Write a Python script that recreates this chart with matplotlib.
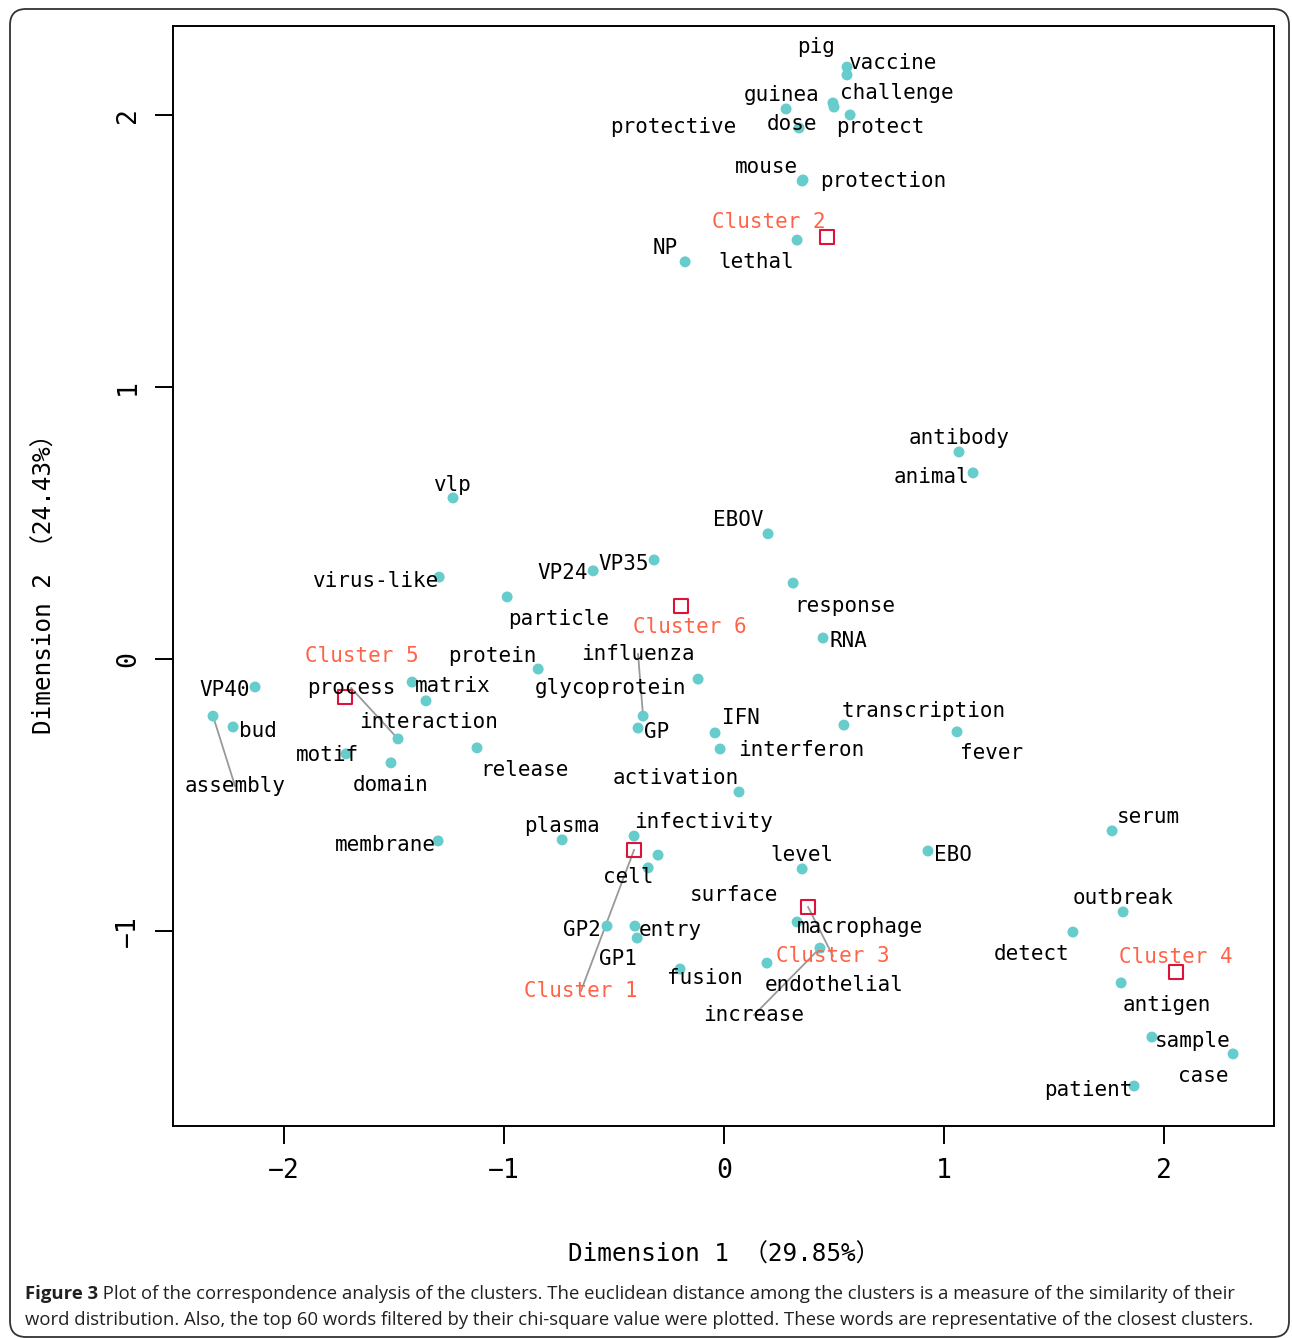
import matplotlib
matplotlib.use("Agg")
import matplotlib.pyplot as plt
from matplotlib.patches import FancyBboxPatch
from matplotlib.transforms import IdentityTransform

# ---------------- data ----------------
words = ["pig", "vaccine", "guinea", "challenge", "protective", "dose", "protect",
         "mouse", "protection", "NP", "lethal", "antibody", "animal", "vlp", "EBOV",
         "VP24", "VP35", "virus-like", "particle", "response", "RNA", "protein",
         "influenza", "VP40", "process", "matrix", "glycoprotein", "bud", "interaction",
         "IFN", "transcription", "GP", "motif", "interferon", "fever", "assembly",
         "domain", "release", "activation", "membrane", "plasma", "infectivity",
         "serum", "level", "EBO", "cell", "surface", "outbreak", "GP2", "entry",
         "macrophage", "detect", "GP1", "fusion", "endothelial", "antigen",
         "increase", "sample", "case", "patient"]
dim1 = [0.559, 0.559, 0.282, 0.500, 0.495, 0.341, 0.573,
        0.355, 0.359, -0.177, 0.332, 1.068, 1.132, -1.232, 0.200,
        -0.595, -0.318, -1.295, -0.986, 0.314, 0.450, -0.845,
        -0.368, -2.132, -1.482, -1.418, -0.118, -2.232, -1.355,
        -0.041, 0.545, -0.391, -1.718, -0.018, 1.059, -2.323,
        -1.514, -1.123, 0.068, -1.300, -0.736, -0.409,
        1.764, 0.355, 0.927, -0.345, -0.300, 1.814, -0.532, -0.405,
        0.332, 1.586, -0.395, -0.200, 0.195, 1.805,
        0.436, 1.945, 2.314, 1.864]
dim2 = [2.176, 2.147, 2.022, 2.029, 2.044, 1.952, 2.000,
        1.757, 1.761, 1.460, 1.540, 0.761, 0.684, 0.592, 0.460,
        0.324, 0.364, 0.301, 0.228, 0.279, 0.077, -0.037,
        -0.210, -0.103, -0.294, -0.085, -0.074, -0.250, -0.154,
        -0.272, -0.243, -0.254, -0.349, -0.331, -0.268, -0.210,
        -0.382, -0.327, -0.489, -0.669, -0.665, -0.651,
        -0.632, -0.772, -0.706, -0.768, -0.721, -0.930, -0.982, -0.982,
        -0.967, -1.004, -1.026, -1.140, -1.118, -1.191,
        -1.063, -1.390, -1.452, -1.570]
label_x = [0.418, 0.768, 0.264, 0.786, -0.232, 0.309, 0.709,
           0.191, 0.723, -0.268, 0.145, 1.068, 0.945, -1.232, 0.064,
           -0.732, -0.455, -1.582, -0.750, 0.550, 0.564, -1.055,
           -0.391, -2.268, -1.695, -1.232, -0.518, -2.118, -1.345,
           0.077, 0.909, -0.305, -1.805, 0.350, 1.218, -2.223,
           -1.514, -0.909, -0.218, -1.541, -0.736, -0.091,
           1.927, 0.355, 1.041, -0.436, 0.045, 1.814, -0.645, -0.245,
           0.618, 1.400, -0.482, -0.086, 0.500, 2.014,
           0.136, 2.132, 2.177, 1.655]
label_y = [2.250, 2.191, 2.074, 2.081, 1.956, 1.967, 1.956,
           1.809, 1.757, 1.511, 1.460, 0.812, 0.669, 0.640, 0.511,
           0.316, 0.349, 0.287, 0.147, 0.195, 0.066, 0.011,
           0.018, -0.114, -0.107, -0.099, -0.107, -0.265, -0.232,
           -0.217, -0.191, -0.268, -0.353, -0.335, -0.346, -0.467,
           -0.463, -0.408, -0.438, -0.684, -0.614, -0.599,
           -0.581, -0.721, -0.721, -0.801, -0.868, -0.879, -0.996, -0.996,
           -0.985, -1.085, -1.103, -1.173, -1.199, -1.272,
           -1.309, -1.404, -1.533, -1.585]
lined_words = ["assembly", "process", "influenza", "increase"]

clusters = ["Cluster 1", "Cluster 2", "Cluster 3", "Cluster 4", "Cluster 5", "Cluster 6"]
cluster_x = [-0.409, 0.468, 0.382, 2.055, -1.723, -0.195]
cluster_y = [-0.702, 1.551, -0.912, -1.151, -0.140, 0.195]
cluster_label_x = [-0.650, 0.205, 0.495, 2.055, -1.645, -0.155]
cluster_label_y = [-1.220, 1.607, -1.092, -1.096, 0.011, 0.118]
lined_clusters = ["Cluster 1", "Cluster 3"]

x_ticks = [-2, -1, 0, 1, 2]
y_ticks = [-1, 0, 1, 2]
xlabel = "Dimension 1 （29.85%）"
ylabel = "Dimension 2 （24.43%）"
caption_bold = "Figure 3"
caption_line1 = " Plot of the correspondence analysis of the clusters. The euclidean distance among the clusters is a measure of the similarity of their"
caption_line2 = "word distribution. Also, the top 60 words filtered by their chi-square value were plotted. These words are representative of the closest clusters."

# ---------------- figure ----------------
W, H = 1292, 1338
fig = plt.figure(figsize=(W / 100, H / 100), dpi=100)
mono = ["DejaVu Sans Mono", "Noto Sans CJK JP"]

ax = fig.add_axes([173 / W, 1 - 1126 / H, (1274 - 173) / W, (1126 - 26) / H])
ax.set_xlim(-2.505, 2.5)
ax.set_ylim(-1.717, 2.327)

word_color = "#66cdcc"
# connecting lines
for w, px, py, lx, ly in zip(words, dim1, dim2, label_x, label_y):
    if w in lined_words:
        ax.plot([px, lx], [py, ly], color="#999999", lw=1.3, zorder=1)
for c, px, py, lx, ly in zip(clusters, cluster_x, cluster_y, cluster_label_x, cluster_label_y):
    if c in lined_clusters:
        ax.plot([px, lx], [py, ly], color="#999999", lw=1.3, zorder=1)

ax.scatter(dim1, dim2, s=62, color=word_color, edgecolors="none", zorder=2)
ax.scatter(cluster_x, cluster_y, s=110, marker="s", facecolors="none",
           edgecolors="#dc143c", linewidths=1.5, zorder=3)

for w, lx, ly in zip(words, label_x, label_y):
    ax.text(lx, ly, w, ha="center", va="center", fontsize=15, family=mono,
            color="black", zorder=4)
for c, lx, ly in zip(clusters, cluster_label_x, cluster_label_y):
    ax.text(lx, ly, c, ha="center", va="center", fontsize=15, family=mono,
            color="#ff6347", zorder=4)

ax.set_xticks(x_ticks)
ax.set_yticks(y_ticks)
ax.set_xticklabels([("\u2212" + str(-t)) if t < 0 else str(t) for t in x_ticks],
                   family=mono, fontsize=19)
ax.set_yticklabels([("\u2212" + str(-t)) if t < 0 else str(t) for t in y_ticks],
                   family=mono, fontsize=19, rotation=90, va="center")
ax.tick_params(axis="both", direction="out", length=13, width=1.4, pad=10)
for s in ax.spines.values():
    s.set_linewidth(1.4)

fig.text(724 / W, 1 - 1255 / H, xlabel, ha="center", va="center",
         fontsize=17.6, family=mono)
fig.text(45 / W, 1 - 578 / H, ylabel, ha="center", va="center",
         fontsize=17.6, family=mono, rotation=90)

# caption
cap_font = "Open Sans"
cap_size = 13.3
y1 = 1 - 1294 / H
y2 = 1 - 1320 / H
tb = fig.text(25 / W, y1, caption_bold, ha="left", va="center", fontsize=cap_size,
              family=cap_font, weight="bold", color="#231f20")
fig.canvas.draw()
bb = tb.get_window_extent()
fig.text(bb.x1 / W, y1, caption_line1, ha="left", va="center", fontsize=cap_size,
         family=cap_font, color="#231f20")
fig.text(25 / W, y2, caption_line2, ha="left", va="center", fontsize=cap_size,
         family=cap_font, color="#231f20")

# outer rounded border
border = FancyBboxPatch((10, 1), 1279, H - 9 - 1, boxstyle="round,pad=0,rounding_size=16",
                        transform=IdentityTransform(), fill=False,
                        edgecolor="#333333", linewidth=1.3)
fig.patches.append(border)

fig.savefig("out.png", dpi=100)
